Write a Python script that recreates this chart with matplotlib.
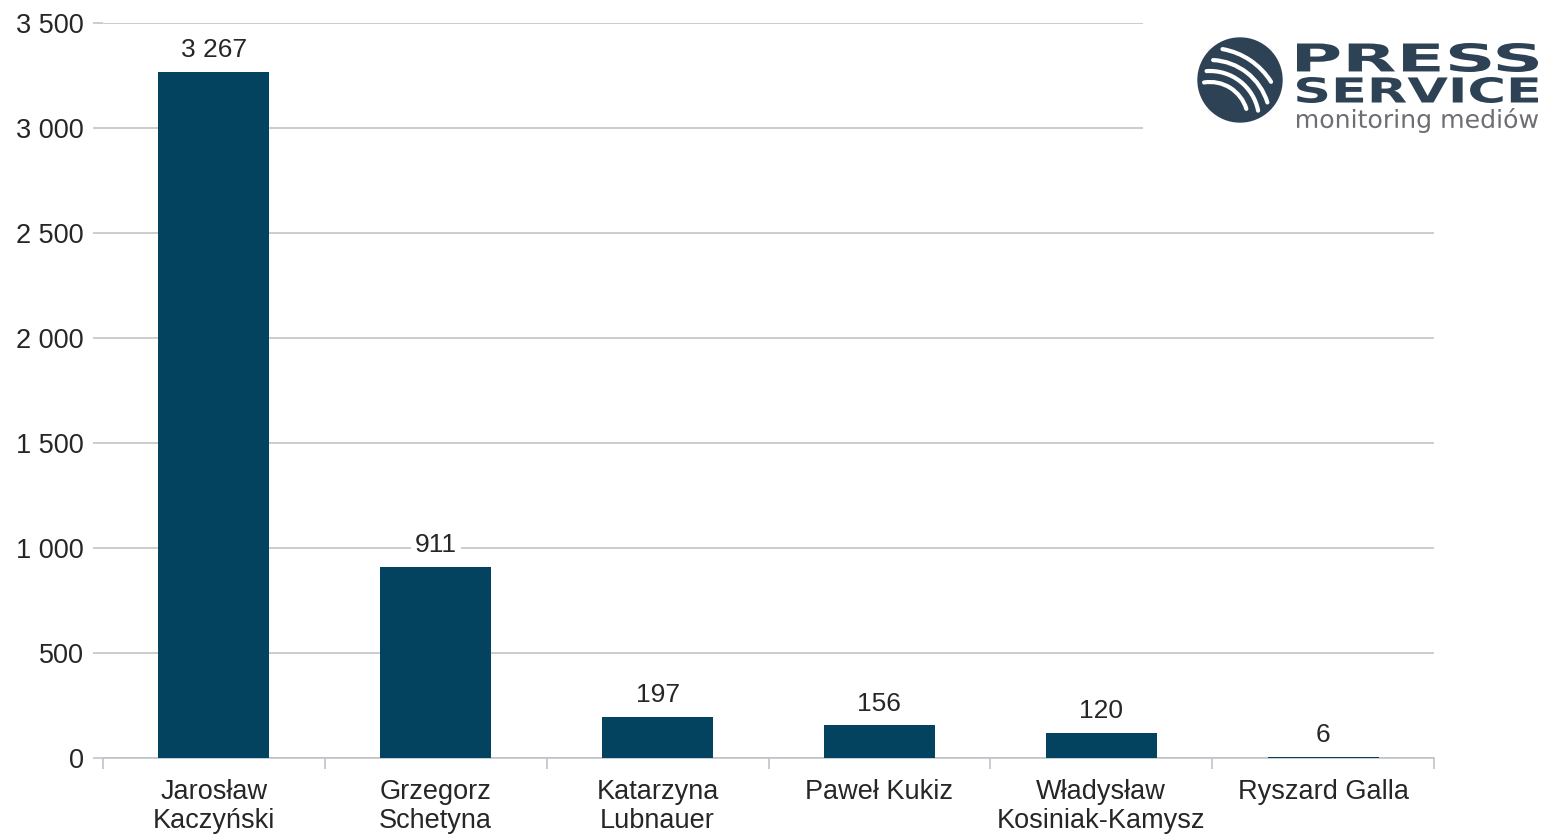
import matplotlib
matplotlib.use("Agg")
from matplotlib import pyplot as plt
from matplotlib.patches import Circle, Arc, PathPatch
from matplotlib.textpath import TextPath
from matplotlib.font_manager import FontProperties
from matplotlib.transforms import Affine2D
from matplotlib.ticker import FuncFormatter, FixedLocator

names = ["Jarosław\nKaczyński", "Grzegorz\nSchetyna", "Katarzyna\nLubnauer",
         "Paweł Kukiz", "Władysław\nKosiniak-Kamysz", "Ryszard Galla"]
values = [3267, 911, 197, 156, 120, 6]
yticks = [0, 500, 1000, 1500, 2000, 2500, 3000, 3500]

BAR = "#03435f"
TXT = "#262626"
GRID = "#c0c4c8"
NAVY = "#2e4256"


def fmt(v):
    return f"{int(v):,}".replace(",", " ")


def fitted_text(ax, s, box, color, weight="bold"):
    # draw text as a path stretched into the pixel box (x0, y0, x1, y1)
    fp = FontProperties(family="DejaVu Sans", weight=weight)
    tp = TextPath((0, 0), s, size=10, prop=fp)
    bb = tp.get_extents()
    x0, y0, x1, y1 = box
    sx = (x1 - x0) / bb.width
    sy = (y1 - y0) / bb.height
    tr = Affine2D().translate(-bb.x0, -bb.y0).scale(sx, -sy).translate(x0, y1)
    ax.add_patch(PathPatch(tr.transform_path(tp), color=color, lw=0))


def main():
    plt.rcParams["font.family"] = ["Liberation Sans", "DejaVu Sans"]
    fig = plt.figure(figsize=(15.43, 8.35), dpi=100)
    ax = fig.add_axes([103 / 1543, 77 / 835, 1331 / 1543, 735 / 835])

    x = list(range(len(values)))
    ax.bar(x, values, width=0.5, color=BAR, zorder=3)
    for xi, v in zip(x, values):
        ax.annotate(fmt(v), (xi, v), xytext=(0, 7), textcoords="offset points",
                    ha="center", va="bottom", fontsize=19, color=TXT, zorder=4,
                    bbox=dict(boxstyle="square,pad=0.15", fc="white", ec="none"))

    ax.set_xlim(-0.5, len(values) - 0.5)
    ax.set_ylim(0, 3500)
    ax.set_yticks(yticks)
    ax.yaxis.set_major_formatter(FuncFormatter(lambda v, p: fmt(v)))
    ax.set_xticks(x)
    ax.set_xticklabels(names, fontsize=19.5, color=TXT, linespacing=1.15)
    ax.xaxis.set_minor_locator(FixedLocator([i - 0.5 for i in range(len(values) + 1)]))
    ax.tick_params(axis="x", which="major", length=0, pad=15)
    ax.tick_params(axis="x", which="minor", length=8, color=GRID, width=1.2)
    ax.tick_params(axis="y", length=7, color=GRID, labelsize=19.5, labelcolor=TXT, pad=7, width=1.2)
    ax.grid(axis="y", color=GRID, lw=1.2, zorder=0)
    for s in ["top", "right", "left"]:
        ax.spines[s].set_visible(False)
    ax.spines["bottom"].set_color(GRID)
    ax.spines["bottom"].set_linewidth(1.2)

    # logo
    lg = fig.add_axes([1143 / 1543, 1 - 140 / 835, 400 / 1543, 140 / 835])
    lg.set_xlim(1143, 1543)
    lg.set_ylim(140, 0)
    lg.axis("off")
    lg.add_patch(plt.Rectangle((1143, 0), 400, 140, color="white", zorder=0))
    circ = Circle((1240, 80), 42, color=NAVY, zorder=1)
    lg.add_patch(circ)
    stripes = [(72, 280, 328), (60, 273, 343), (49, 266, 349), (38, 261, 343)]
    for r, t1, t2 in stripes:
        a = Arc((1210, 120), 2 * r, 2 * r, theta1=t1, theta2=t2,
                color="white", lw=3, zorder=2, capstyle="round")
        lg.add_patch(a)
        a.set_clip_path(circ)
    fitted_text(lg, "PRESS", (1297, 43, 1538, 72), NAVY)
    fitted_text(lg, "SERVICE", (1297, 77, 1538, 103), NAVY)
    fitted_text(lg, "monitoring mediów", (1297, 108, 1538, 133), "#6d6e71", weight="normal")

    plt.savefig("out.png", dpi=100)


if __name__ == "__main__":
    main()
